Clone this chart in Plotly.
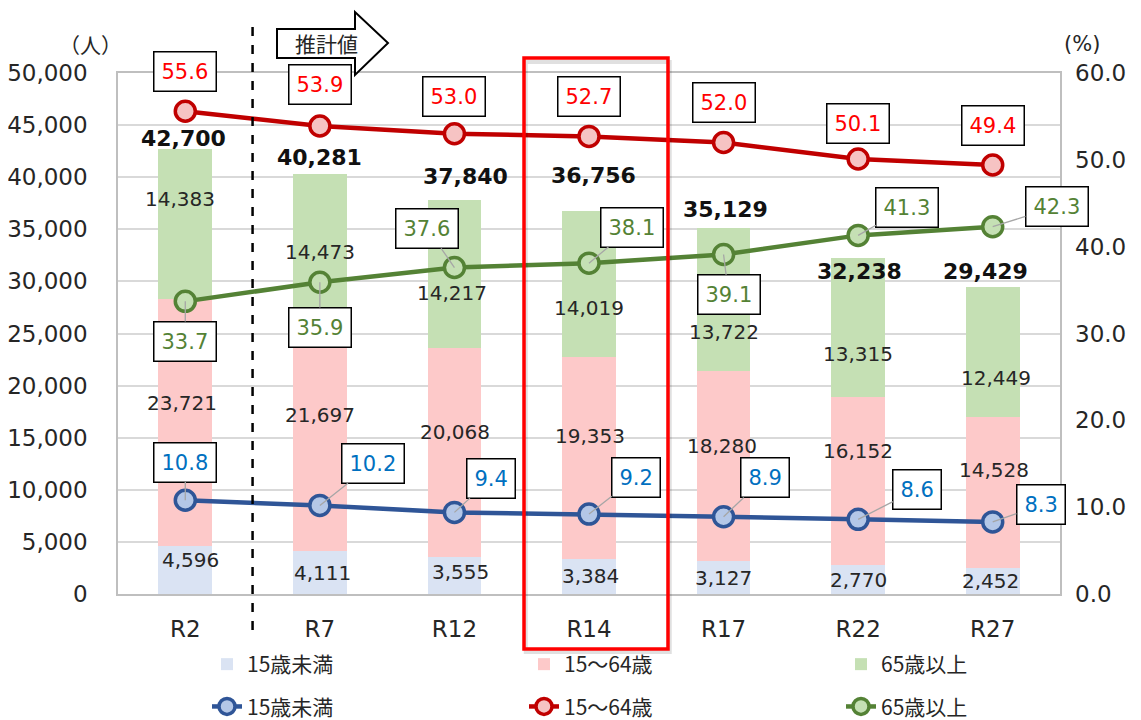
import plotly.graph_objects as go

# ---- data ----
cats = ["R2", "R7", "R12", "R14", "R17", "R22", "R27"]
under15 = [4596, 4111, 3555, 3384, 3127, 2770, 2452]
age15_64 = [23721, 21697, 20068, 19353, 18280, 16152, 14528]
over65 = [14383, 14473, 14217, 14019, 13722, 13315, 12449]
totals = [42700, 40281, 37840, 36756, 35129, 32238, 29429]

pct_under15 = [10.8, 10.2, 9.4, 9.2, 8.9, 8.6, 8.3]
pct_15_64 = [55.6, 53.9, 53.0, 52.7, 52.0, 50.1, 49.4]
pct_65 = [33.7, 35.9, 37.6, 38.1, 39.1, 41.3, 42.3]

# ---- label nudges (pixels), like Excel hand-placed labels ----
seg_shift = {
    "u": [(5, 10), (3, 0), (6, 3), (1, 0), (0, 0), (0, 0), (-2, 0)],
    "m": [(-3, 20), (0, 23), (1, 20), (1, 22), (-2, 20), (0, 30), (1, 23)],
    "o": [(-5, 25), (0, -2), (-2, -19), (0, -24), (0, -33), (0, -27), (3, -26)],
}
total_shift = [(-2, 11), (0, 17), (11, 23), (4, 36), (2, 18), (1, -13), (-7, 16)]
red_off = [(0, -40), (0, -41), (0, -37), (0, -40), (0, -40), (0, -35), (0, -40)]
green_off = [(0, 40), (0, 45), (-27, -39), (43, -36), (5, 40), (49, -28), (64, -20)]
blue_off = [(0, -38), (53, -42), (37, -34), (47, -37), (41, -39), (59, -30), (48, -17)]

FONT = "DejaVu Sans, Noto Sans CJK JP"
JP = "Noto Sans CJK JP"
TXT = "#262626"

fig = go.Figure()

groups = [
    ("15歳未満", under15, "#dae3f3", pct_under15, "#2f5597", "#b4c7e7", "legend"),
    ("15～64歳", age15_64, "#fdc9c9", pct_15_64, "#c00000", "#f6c3c3", "legend2"),
    ("65歳以上", over65, "#c5e0b4", pct_65, "#548235", "#c5e0b4", "legend3"),
]
for name, vals, col, _, _, _, leg in groups:
    fig.add_trace(go.Bar(x=cats, y=vals, name=name, marker=dict(color=col, line=dict(width=0)),
                         legend=leg, legendgroup=name + "bar"))

for name, _, _, pvals, col, fill, leg in groups:
    fig.add_trace(go.Scatter(x=cats, y=pvals, name=name, yaxis="y2", mode="lines+markers",
                             line=dict(color=col, width=4.5),
                             marker=dict(size=20, color=fill, line=dict(color=col, width=3.5)),
                             legend=leg, legendgroup=name + "line"))

annotations = []

# segment value labels
base = [0] * len(cats)
for key, vals in (("u", under15), ("m", age15_64), ("o", over65)):
    for i, c in enumerate(cats):
        dx, dy = seg_shift[key][i]
        annotations.append(dict(x=c, y=base[i] + vals[i] / 2, xref="x", yref="y",
                                text=f"{vals[i]:,}", showarrow=False, xshift=dx, yshift=dy,
                                font=dict(size=20, color=TXT, family=FONT)))
        base[i] += vals[i]

# totals
for i, c in enumerate(cats):
    dx, dy = total_shift[i]
    annotations.append(dict(x=c, y=totals[i], xref="x", yref="y", text=f"<b>{totals[i]:,}</b>",
                            showarrow=False, xshift=dx, yshift=dy,
                            font=dict(size=22, color="#111111", family=FONT)))

# percentage boxes
for vals, offs, tcol, lcol in ((pct_15_64, red_off, "#ff0000", "rgba(0,0,0,0)"),
                               (pct_65, green_off, "#548235", "#a6a6a6"),
                               (pct_under15, blue_off, "#0070c0", "#a6a6a6")):
    for i, c in enumerate(cats):
        ax, ay = offs[i]
        annotations.append(dict(x=c, y=vals[i], xref="x", yref="y2", text=f"{vals[i]:.1f}",
                                showarrow=True, arrowhead=0, arrowwidth=1.3, arrowcolor=lcol,
                                ax=ax, ay=ay, standoff=0,
                                bgcolor="white", bordercolor="#000000", borderwidth=1.5,
                                borderpad=7, font=dict(size=21, color=tcol, family=FONT)))


def px(x):
    return (x - 118) / 942


def py(y):
    return (594 - y) / 521


# axis unit labels and the "estimate" arrow text
for tx, x, y, fam in (("（人）", 90, 44, JP), ("(%)", 1082, 44, FONT), ("推計値", 326, 43, JP)):
    annotations.append(dict(x=px(x), y=py(y), xref="paper", yref="paper", text=tx, showarrow=False,
                            xanchor="center", yanchor="middle",
                            font=dict(size=21, color=TXT, family=fam)))

arrow_path = "M{},{} L{},{} L{},{} L{},{} L{},{} L{},{} L{},{} Z".format(
    px(277), py(29), px(355), py(29), px(355), py(12), px(388), py(43),
    px(355), py(75), px(355), py(58), px(277), py(58))

shapes = [
    dict(type="line", xref="x", yref="paper", x0=0.5, x1=0.5, y0=py(630), y1=py(22),
         line=dict(color="black", width=2.5, dash="dash")),
    dict(type="rect", xref="x", yref="paper", x0=2.53, x1=3.60, y0=py(652), y1=py(62),
         line=dict(color="rgba(0,0,0,0.12)", width=4), layer="above"),
    dict(type="rect", xref="x", yref="paper", x0=2.517, x1=3.587, y0=py(649), y1=py(58),
         line=dict(color="#ff0000", width=3.5), layer="above"),
    dict(type="path", xref="paper", yref="paper", path=arrow_path, fillcolor="white",
         line=dict(color="black", width=2), layer="above"),
]

leg_common = dict(orientation="v", yref="container", y=1 - (644 - 8) / 720, xref="container",
                  xanchor="left", yanchor="top", traceorder="grouped", tracegroupgap=12,
                  bgcolor="rgba(0,0,0,0)", font=dict(size=21, family=JP, color=TXT))

# the page body adds an 8px offset, so margins are shifted to keep the plot area in place
fig.update_layout(
    width=1141, height=720,
    margin=dict(l=110, r=89, t=65, b=134, autoexpand=False),
    paper_bgcolor="white", plot_bgcolor="white",
    barmode="stack", bargap=0.6,
    font=dict(family=FONT, color=TXT),
    xaxis=dict(range=[-0.5, 6.5], showgrid=False, showline=True, linecolor="#bfbfbf", linewidth=1.5,
               mirror=True, ticks="", tickfont=dict(size=23, family=FONT, color=TXT),
               ticklabelstandoff=14),
    yaxis=dict(range=[0, 50000], dtick=5000, tickformat=",", showgrid=True, gridcolor="#d9d9d9",
               gridwidth=1.5, showline=True, linecolor="#bfbfbf", linewidth=1.5, mirror=True,
               zeroline=False, ticks="", tickfont=dict(size=23, family=FONT, color=TXT),
               ticklabelstandoff=24),
    yaxis2=dict(range=[0, 60], dtick=10, tickformat=".1f", overlaying="y", side="right",
                showgrid=False, zeroline=False, ticks="",
                tickfont=dict(size=23, family=FONT, color=TXT), ticklabelstandoff=14),
    legend=dict(x=199 / 1141, **leg_common),
    legend2=dict(x=516 / 1141, **leg_common),
    legend3=dict(x=833 / 1141, **leg_common),
    annotations=annotations,
    shapes=shapes,
)

fig.write_html("out.html")
